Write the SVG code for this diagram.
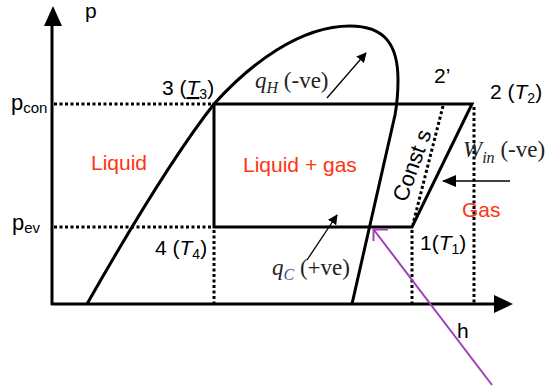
<svg xmlns="http://www.w3.org/2000/svg" width="554" height="389" viewBox="0 0 554 389">
<defs>
<style>
.ax{stroke:#000;stroke-width:3;fill:none}
.ln{stroke:#000;stroke-width:3;fill:none;stroke-linecap:square}
.dot{stroke:#000;stroke-width:3;fill:none;stroke-dasharray:3 2.5}
.thin{stroke:#000;stroke-width:1.3;fill:none}
.s{font-family:"Liberation Sans",Arial,sans-serif;fill:#000}
.r{font-family:"Liberation Sans",Arial,sans-serif;fill:#FF3311;font-size:21px}
.t{font-family:"Liberation Serif","Times New Roman",serif;fill:#222;font-size:23px}
</style>
<marker id="ah" markerWidth="10" markerHeight="10" refX="9" refY="5" orient="auto" markerUnits="userSpaceOnUse">
<path d="M0,0 L10,5 L0,10 Z" fill="#000"/>
</marker>
<marker id="ahb" markerWidth="14" markerHeight="12" refX="13" refY="6" orient="auto" markerUnits="userSpaceOnUse">
<path d="M0,0 L14,6 L0,12 Z" fill="#000"/>
</marker>
</defs>
<g id="axes">
<line class="ax" x1="52" y1="305" x2="52" y2="24"/>
<path d="M44,26 L53,6 L62,26 Z" fill="#000"/>
<line class="ax" x1="51" y1="304" x2="496" y2="304"/>
<path d="M494,295 L513,304 L494,313 Z" fill="#000"/>
</g>
<g id="dome">
<path class="ax" d="M87,304 C120,246 170,160 214,104 C250,64 300,26 350,26 C385,26 398,45 398,80 C398,95 397,104 395,115 L352,304"/>
</g>
<g id="connectors">
<line class="dot" x1="54" y1="104" x2="212" y2="104"/>
<line class="dot" x1="54" y1="227" x2="212" y2="227"/>
<line class="dot" x1="214" y1="230" x2="214" y2="304"/>
<line class="dot" x1="412" y1="230" x2="412" y2="304"/>
<line class="dot" x1="474" y1="107" x2="474" y2="304"/>
<line class="dot" x1="443" y1="106" x2="413" y2="224"/>
<path class="ln" d="M214,104 L472,104 L412,227 L214,227 Z"/>
<line class="thin" x1="327" y1="98" x2="366" y2="53" marker-end="url(#ah)"/>
<line class="thin" x1="307" y1="260" x2="337" y2="215" marker-end="url(#ah)"/>
<line class="thin" x1="510" y1="181" x2="443" y2="181" marker-end="url(#ahb)"/>
<g id="purple-arrow" stroke="#A040B8" stroke-width="2" fill="none">
<line x1="492" y1="385" x2="374" y2="230"/>
<polyline points="388,229.5 373.5,229.5 373.5,241"/>
</g>
</g>
<g id="labels">
<text class="s" x="85" y="18" font-size="21">p</text>
<text class="s" x="11" y="110" font-size="22">p<tspan font-size="15" dy="3">con</tspan></text>
<text class="s" x="12" y="230" font-size="22">p<tspan font-size="15" dy="3">ev</tspan></text>
<text class="s" x="162" y="95" font-size="21">3 (<tspan font-style="italic" text-decoration="underline">T</tspan><tspan font-size="14" dy="4">3</tspan><tspan dy="-4">)</tspan></text>
<text class="s" x="155" y="255" font-size="21">4 (<tspan font-style="italic">T</tspan><tspan font-size="14" dy="4">4</tspan><tspan dy="-4">)</tspan></text>
<text class="s" x="434" y="83" font-size="21">2’</text>
<text class="s" x="490" y="99" font-size="21">2 (<tspan font-style="italic">T</tspan><tspan font-size="14" dy="4">2</tspan><tspan dy="-4">)</tspan></text>
<text class="s" x="420" y="250" font-size="21">1(<tspan font-style="italic">T</tspan><tspan font-size="14" dy="4">1</tspan><tspan dy="-4">)</tspan></text>
<text class="s" x="457" y="338" font-size="21">h</text>
<text class="r" x="91" y="170">Liquid</text>
<text class="r" x="243" y="172">Liquid + gas</text>
<text class="r" x="462" y="217">Gas</text>
<text class="s" font-size="22" text-anchor="middle" transform="translate(419,168) rotate(-70)">Const s</text>
<text class="t" x="255" y="88"><tspan font-style="italic">q</tspan><tspan font-style="italic" font-size="16" dy="5">H</tspan><tspan dy="-5"> (-ve)</tspan></text>
<text class="t" x="272" y="275"><tspan font-style="italic">q</tspan><tspan font-style="italic" font-size="16" dy="5" fill="#3A5A8A">C</tspan><tspan dy="-5"> (+ve)</tspan></text>
<text class="t" x="463" y="157"><tspan font-style="italic">W</tspan><tspan font-style="italic" font-size="16" dy="6">in</tspan><tspan dy="-6"> (-ve)</tspan></text>
</g>
</svg>
